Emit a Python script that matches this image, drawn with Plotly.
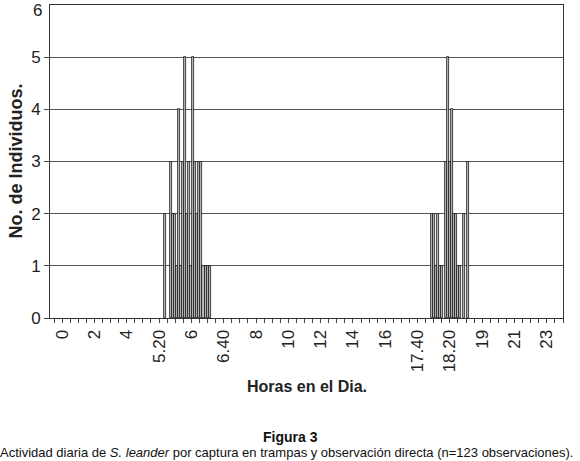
import plotly.graph_objects as go

# Time slots (category index along the hour axis) and counts of individuals
slots_morning = [57, 60, 61, 62, 63, 64, 65, 66, 67, 68, 69, 70, 71, 72, 73, 74, 75, 76, 77, 78, 79]
counts_morning = [2, 3, 2, 2, 1, 4, 1, 3, 5, 2, 3, 1, 5, 3, 2, 3, 3, 1, 1, 1, 1]

slots_evening = [189, 190, 191, 192, 193, 194, 196, 197, 198, 199, 200, 201, 202, 203, 205, 207]
counts_evening = [2, 2, 1, 2, 1, 1, 3, 5, 3, 4, 2, 2, 1, 1, 2, 3]

tick_slots = [6, 22, 38, 54, 70, 86, 102, 118, 134, 150, 166, 182, 198, 214, 230, 246]
tick_labels = ["0", "2", "4", "5.20", "6", "6.40", "8", "10", "12", "14", "16",
               "17.40", "18.20", "19", "21", "23"]

y_ticks = [0, 1, 2, 3, 4, 5, 6]

x = slots_morning + slots_evening
y = counts_morning + counts_evening

FONT = "Liberation Sans, Arial, sans-serif"

fig = go.Figure()
fig.add_trace(go.Bar(
    x=x, y=y, width=1,
    marker=dict(color="#bbbbbb", line=dict(color="#1a1a1a", width=0.8)),
    showlegend=False,
))

fig.update_layout(
    width=580, height=461,
    margin=dict(l=50, r=17, t=5, b=143, autoexpand=False),
    plot_bgcolor="white", paper_bgcolor="white",
    bargap=0,
    font=dict(family=FONT, color="#222", size=14),
    xaxis=dict(
        range=[0, 254], automargin=False,
        tickmode="array", tickvals=tick_slots, ticktext=tick_labels,
        tickangle=-90, ticks="outside", ticklen=4, tickcolor="#444",
        tickfont=dict(size=17, family=FONT, color="#222"),
        showgrid=False, zeroline=False,
        showline=True, linecolor="#333", linewidth=1, mirror=True,
        minor=dict(tickmode="linear", tick0=2, dtick=4, ticks="outside", ticklen=4, tickcolor="#444"),
    ),
    yaxis=dict(
        range=[0, 6], automargin=False,
        tickmode="array", tickvals=y_ticks[:-1],
        ticks="outside", ticklen=5, tickcolor="#444",
        tickfont=dict(size=17, family=FONT, color="#222"),
        showgrid=True, gridcolor="#555", gridwidth=1,
        zeroline=False,
        showline=True, linecolor="#333", linewidth=1, mirror=True,
    ),
)

# top y tick label (Plotly drops it at the paper edge)
fig.add_annotation(text=str(y_ticks[-1]), xref="paper", yref="y",
                   x=(44 - 50) / 513, y=y_ticks[-1], showarrow=False,
                   xanchor="right", yanchor="top", yshift=6,
                   font=dict(size=17, family=FONT, color="#222"))

fig.add_annotation(text="<b>No. de Individuos.</b>", xref="paper", yref="paper",
                   x=(15 - 50) / 513, y=0.5, textangle=-90, showarrow=False,
                   xanchor="center", yanchor="middle",
                   font=dict(size=18, family=FONT, color="#222"))
fig.add_annotation(text="<b>Horas en el Dia.</b>", xref="paper", yref="paper",
                   x=0.5, y=-0.2204, showarrow=False, xanchor="center", yanchor="middle",
                   font=dict(size=16, family=FONT, color="#222"))
fig.add_annotation(text="<b>Figura 3</b>", xref="paper", yref="paper",
                   x=(290 - 50) / 513, y=(318 - 437) / 313, showarrow=False,
                   xanchor="center", yanchor="middle",
                   font=dict(size=14, family=FONT, color="#111"))
fig.add_annotation(text="Actividad diaria de <i>S. leander</i> por captura en trampas y observación directa (n=123 observaciones).",
                   xref="paper", yref="paper",
                   x=(286 - 50) / 513, y=(318 - 452) / 313, showarrow=False,
                   xanchor="center", yanchor="middle",
                   font=dict(size=13, family=FONT, color="#111"))

fig.write_html("out.html", config={"displayModeBar": False},
               post_script="document.body.style.margin='0';document.body.style.padding='0';")
